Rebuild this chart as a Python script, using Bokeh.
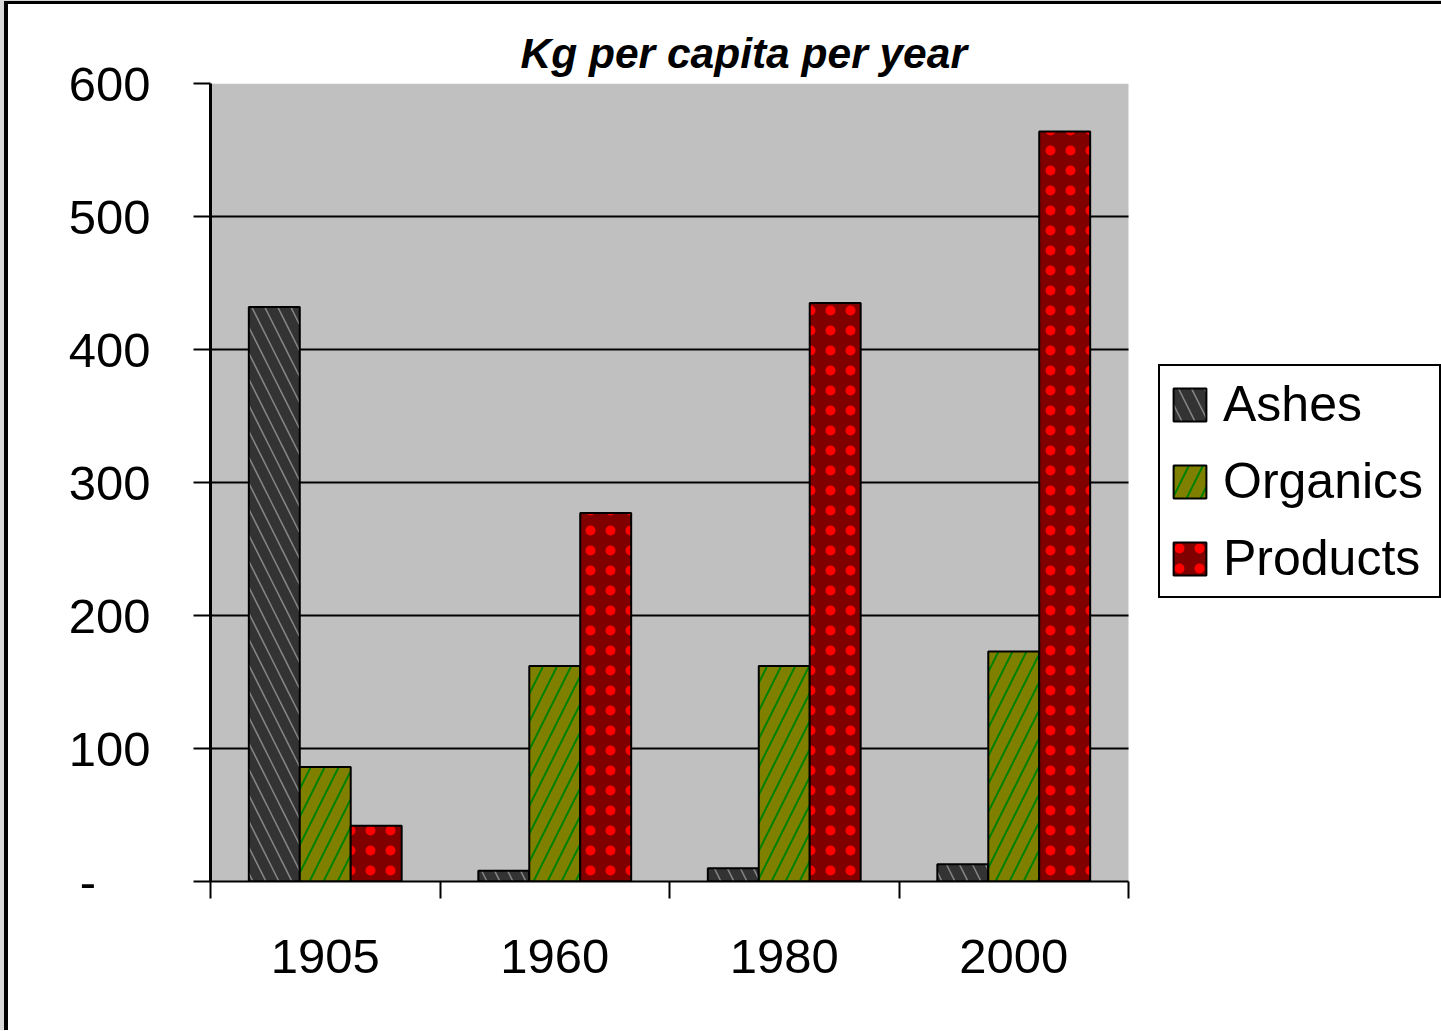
from bokeh.plotting import figure
from bokeh.models import (ColumnDataSource, FixedTicker, Legend, LegendItem, Range1d, Title,
                          BoxAnnotation)
from bokeh.embed import file_html
from bokeh.resources import INLINE

years = ["1905", "1960", "1980", "2000"]
ashes = [432, 8, 10, 13]
organics = [86, 162, 162, 173]
products = [42, 277, 435, 564]
y_ticks = [0, 100, 200, 300, 400, 500, 600]

FONT = "Liberation Sans"
n = len(years)
# frame spans plot area (918 px for the categories) plus the legend area to the right
x_end = n * (1441 - 210) / 918

p = figure(width=1441, height=1030, output_backend="svg", toolbar_location=None,
           x_range=Range1d(0, x_end), y_range=Range1d(0, 600),
           min_border_left=210, min_border_right=0, min_border_top=83, min_border_bottom=149)
p.title = Title(text="Kg per capita per year", text_font=FONT, text_font_size="42.5px",
                text_font_style="bold italic", text_color="black", align="left",
                offset=310, standoff=14)
p.background_fill_color = None
p.border_fill_color = None
p.outline_line_color = None
p.styles = {"background-color": "white",
            "box-shadow": "inset 4px 1px 0px 0px #D8D8D8, inset 8px 4px 0px 0px black"}

p.add_layout(BoxAnnotation(left=0, right=n, bottom=0, top=600, fill_color="#C0C0C0",
                           fill_alpha=1.0, line_color=None, level="underlay"))

grid_src = ColumnDataSource(dict(y=[t for t in y_ticks if 0 < t < 600]))
p.segment(x0=0, x1=n, y0="y", y1="y", source=grid_src, line_color="black", line_width=2)

idx = list(range(n))
w = 0.222
series = [("Ashes", ashes, -w, "#333333", "#858585", "\\", 26, 1.5),
          ("Organics", organics, 0.0, "#808000", "#008000", "/", 28, 2),
          ("Products", products, w, "#800000", "#FF0000", ".", 20, 2)]
items = []
for name, vals, off, fill, hcol, pat, hs, hw in series:
    src = ColumnDataSource(dict(x=[i + 0.5 + off for i in idx], top=vals))
    r = p.vbar(x="x", top="top", width=w, bottom=0, source=src, fill_color=fill,
               line_color="black", line_width=2, hatch_pattern=pat, hatch_color=hcol,
               hatch_scale=hs, hatch_weight=hw)
    items.append(LegendItem(label=name, renderers=[r]))

legend = Legend(items=items, location=(948, 283), margin=0, padding=9, spacing=19,
                label_text_font=FONT, label_text_font_size="50px", label_text_color="black",
                label_standoff=13, label_width=207, glyph_width=41, glyph_height=41,
                border_line_color="black", border_line_width=2, border_line_alpha=1.0,
                background_fill_color="white", background_fill_alpha=1.0)
p.add_layout(legend)

# axes
xa = p.xaxis[0]
xa.bounds = (0, n)
xa.ticker = FixedTicker(ticks=[i + 0.5 for i in idx], minor_ticks=list(range(n + 1)))
xa.major_label_overrides = {i + 0.5: y for i, y in zip(idx, years)}
xa.major_tick_out = 0
xa.major_tick_in = 0
xa.minor_tick_out = 17
xa.minor_tick_in = 0
xa.minor_tick_line_width = 2
xa.minor_tick_line_color = "black"
xa.axis_line_width = 2
xa.axis_line_color = "black"
xa.major_label_text_font = FONT
xa.major_label_text_font_size = "49px"
xa.major_label_text_color = "black"
xa.major_label_standoff = 41

ya = p.yaxis[0]
ya.ticker = FixedTicker(ticks=y_ticks, minor_ticks=[])
ya.major_label_overrides = {0: "-\u00a0\u00a0\u00a0\u00a0"}
ya.major_tick_out = 17
ya.major_tick_in = 0
ya.major_tick_line_width = 2
ya.major_tick_line_color = "black"
ya.axis_line_width = 3
ya.axis_line_color = "black"
ya.major_label_text_font = FONT
ya.major_label_text_font_size = "49px"
ya.major_label_text_color = "black"
ya.major_label_standoff = 43

p.xgrid.visible = False
p.ygrid.visible = False

open("out.html", "w").write(file_html(p, INLINE))
